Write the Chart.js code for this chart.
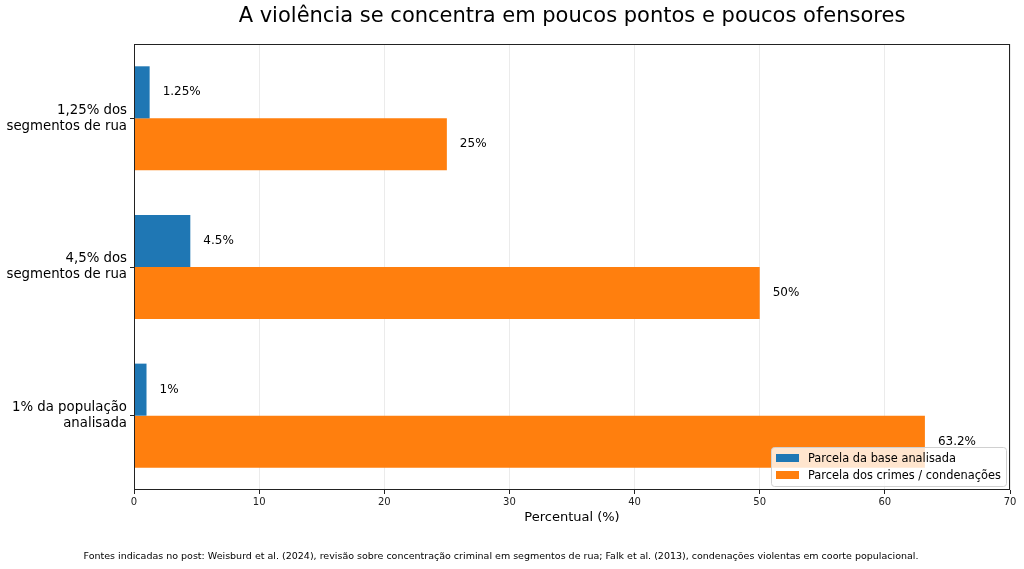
<!DOCTYPE html>
<html>
<head>
<meta charset="utf-8">
<script src="https://cdn.jsdelivr.net/npm/chart.js@4.4.1/dist/chart.umd.min.js"></script>
<style>
  html, body { margin: 0; padding: 0; background: #fff; }
  #wrap { width: 1024px; height: 569px; }
</style>
</head>
<body>
<div id="wrap"><canvas id="chart" width="1024" height="569"></canvas></div>
<script>
// dados
const categorias = [
    ["1,25% dos", "segmentos de rua"],
    ["4,5% dos", "segmentos de rua"],
    ["1% da população", "analisada"]
];
const parcelaBase = [1.25, 4.5, 1];
const parcelaCrimes = [25, 50, 63.2];
const rotulosBase = ["1.25%", "4.5%", "1%"];
const rotulosCrimes = ["25%", "50%", "63.2%"];
const xTicks = [0, 10, 20, 30, 40, 50, 60, 70];

const TITULO = "A violência se concentra em poucos pontos e poucos ofensores";
const RODAPE = "Fontes indicadas no post: Weisburd et al. (2024), revisão sobre concentração criminal em segmentos de rua; Falk et al. (2013), condenações violentas em coorte populacional.";
const FONTE = "'DejaVu Sans', sans-serif";
const AZUL = "#1f77b4";
const LARANJA = "#ff7f0e";

// título, moldura, rótulos das barras, legenda e rodapé
const extras = {
    id: "extras",
    afterDatasetsDraw(chart) {
        const c = chart.ctx;
        const a = chart.chartArea;
        c.save();

        // rótulos de valor
        c.fillStyle = "#000";
        c.font = "12px " + FONTE;
        c.textAlign = "left";
        c.textBaseline = "middle";
        [rotulosBase, rotulosCrimes].forEach((rot, di) => {
            chart.getDatasetMeta(di).data.forEach((bar, i) => {
                c.fillText(rot[i], bar.x + 13, bar.y);
            });
        });

        // moldura
        c.strokeStyle = "#222";
        c.lineWidth = 1;
        c.strokeRect(a.left + 0.5, a.top + 0.5, a.right - a.left - 1, a.bottom - a.top - 1);

        // legenda
        const lx = 771, ly = 447, lw = 235, lh = 39;
        c.fillStyle = "rgba(255,255,255,0.8)";
        c.strokeStyle = "#d0d0d0";
        c.beginPath();
        c.roundRect(lx + 0.5, ly + 0.5, lw, lh, 3);
        c.fill();
        c.stroke();
        c.font = "11.4px " + FONTE;
        chart.data.datasets.forEach((ds, i) => {
            const yy = ly + 11 + i * 17;
            c.fillStyle = ds.backgroundColor;
            c.fillRect(lx + 5, yy - 4, 23, 8);
            c.fillStyle = "#000";
            c.fillText(ds.label, lx + 37, yy + 1);
        });

        // título
        c.fillStyle = "#000";
        c.font = "21px " + FONTE;
        c.textAlign = "center";
        c.fillText(TITULO, (a.left + a.right) / 2, 17);

        // rodapé
        c.font = "9.5px " + FONTE;
        c.fillText(RODAPE, 501, 557);
        c.restore();
    }
};

new Chart(document.getElementById("chart"), {
    type: "bar",
    data: {
        labels: categorias,
        datasets: [
            { label: "Parcela da base analisada", data: parcelaBase, backgroundColor: AZUL },
            { label: "Parcela dos crimes / condenações", data: parcelaCrimes, backgroundColor: LARANJA }
        ]
    },
    options: {
        indexAxis: "y",
        responsive: false,
        animation: false,
        layout: { padding: { top: 44, right: 14, left: 0, bottom: 44 } },
        datasets: { bar: { categoryPercentage: 0.7, barPercentage: 1.0 } },
        plugins: { legend: { display: false }, tooltip: { enabled: false } },
        scales: {
            x: {
                type: "linear",
                min: 0,
                max: 70,
                afterBuildTicks: axis => { axis.ticks = xTicks.map(v => ({ value: v })); },
                afterFit: axis => { axis.height = 35; },
                grid: { color: "#ebebeb", tickColor: "#222", tickLength: 4, drawOnChartArea: true },
                border: { display: false },
                ticks: { color: "#222", font: { family: FONTE, size: 10 }, padding: 2 },
                title: { display: true, text: "Percentual (%)", color: "#000", font: { family: FONTE, size: 13 }, padding: { top: 2, bottom: 0 } }
            },
            y: {
                type: "category",
                afterFit: axis => { axis.width = 134; },
                grid: { display: true, offset: false, drawOnChartArea: false, tickColor: "#222", tickLength: 4 },
                border: { display: false },
                ticks: { color: "#000", font: { family: FONTE, size: 13.3, lineHeight: 1.2 }, padding: 3 }
            }
        }
    },
    plugins: [extras]
});
</script>
</body>
</html>
